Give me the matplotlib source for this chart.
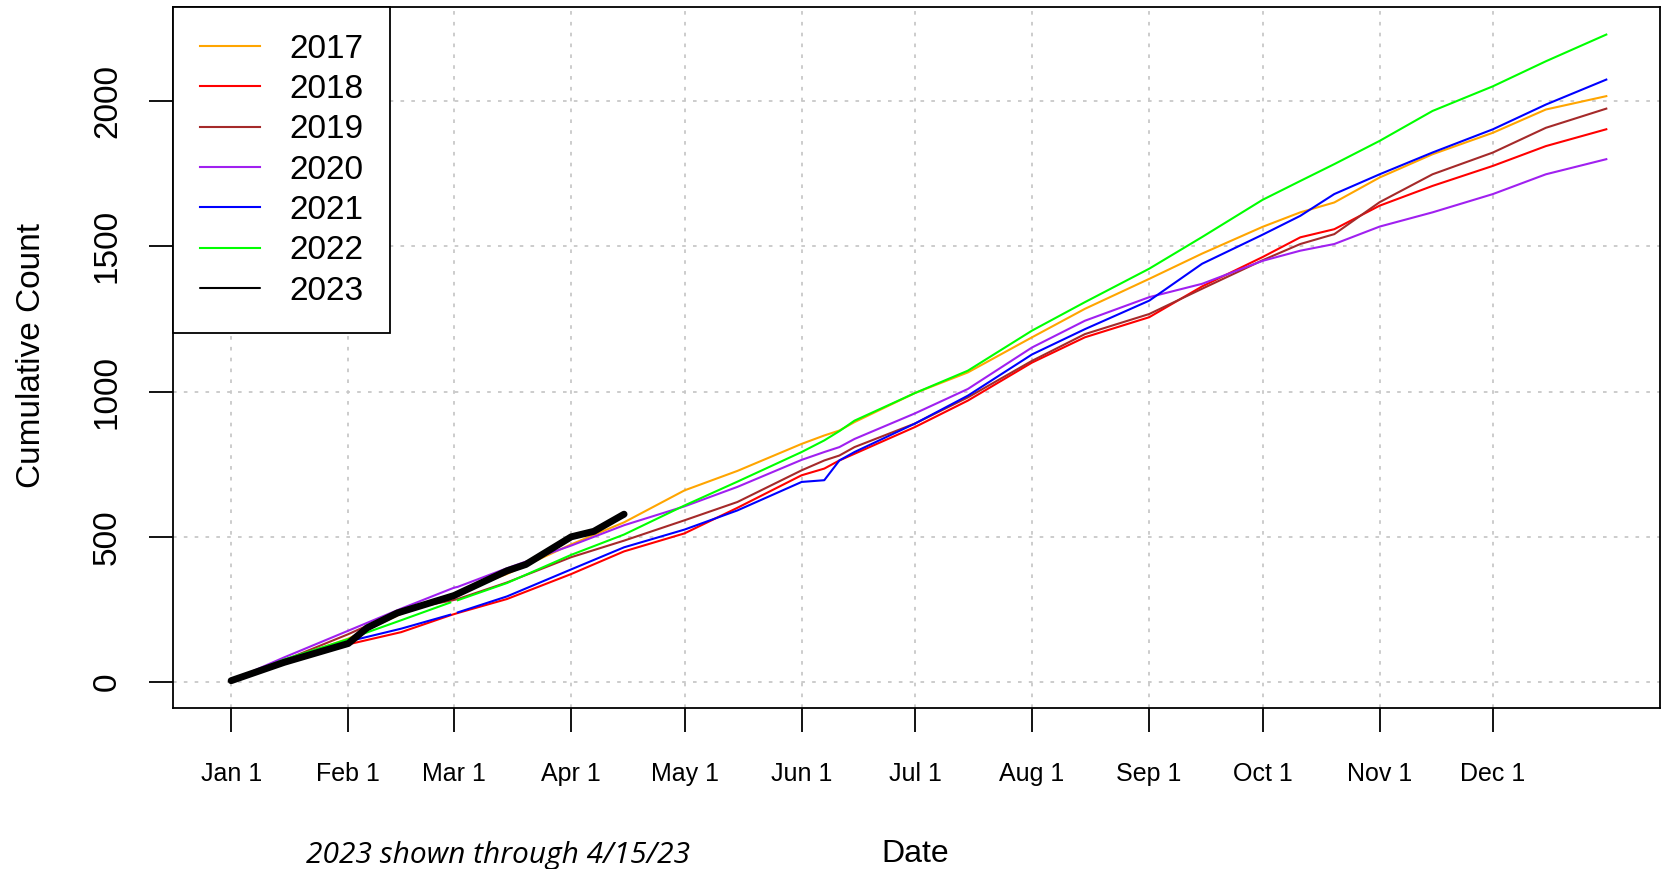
import numpy as np
import matplotlib
matplotlib.use("Agg")
import matplotlib.pyplot as plt

days = [1, 15, 32, 46, 59, 60, 61, 74, 91, 105, 121, 135, 152, 158, 162, 166,
        182, 196, 213, 227, 244, 258, 274, 284, 293, 305, 319, 335, 349, 365]

y2017 = [5, 72, 150, 235, 300, 305, 310, 372, 474, 550, 660, 727, 820, 849, 866, 895,
         995, 1066, 1187, 1285, 1388, 1475, 1567, 1617, 1651, 1737, 1817, 1891, 1971, 2017]
y2018 = [5, 65, 130, 172, 230, 234, 238, 286, 372, 450, 512, 600, 712, 735, 763, 786,
         878, 969, 1100, 1187, 1256, 1362, 1463, 1531, 1559, 1640, 1708, 1777, 1845, 1903]
y2019 = [5, 75, 165, 247, 280, 283, 286, 343, 430, 487, 557, 620, 729, 763, 780, 809,
         890, 980, 1106, 1198, 1267, 1354, 1452, 1508, 1542, 1652, 1748, 1823, 1908, 1974]
y2020 = [5, 85, 177, 253, 320, 325, 328, 392, 470, 540, 605, 672, 765, 792, 809, 837,
         925, 1009, 1152, 1244, 1325, 1371, 1450, 1485, 1508, 1568, 1617, 1680, 1748, 1800]
y2021 = [5, 72, 140, 184, 232, np.nan, 240, 295, 388, 464, 525, 591, 689, 695, 763, 792,
         890, 986, 1128, 1215, 1313, 1440, 1540, 1605, 1680, 1748, 1823, 1903, 1988, 2074]
y2022 = [5, 78, 148, 213, 274, np.nan, 282, 341, 438, 508, 608, 690, 792, 832, 864, 900,
         995, 1072, 1210, 1308, 1423, 1532, 1660, 1725, 1783, 1863, 1966, 2051, 2137, 2229]

# 2023 only through 4/15
days2023 = [1, 15, 32, 37, 45, 60, 74, 79, 91, 97, 105]
y2023 = [5, 68, 133, 187, 238, 298, 383, 405, 500, 519, 578]

years = ["2017", "2018", "2019", "2020", "2021", "2022", "2023"]
colors = ["#FFA500", "#FF0000", "#A52A2A", "#A020F0", "#0000FF", "#00FF00", "black"]

month_days = [1, 32, 60, 91, 121, 152, 182, 213, 244, 274, 305, 335]
month_labels = ["Jan 1", "Feb 1", "Mar 1", "Apr 1", "May 1", "Jun 1",
                "Jul 1", "Aug 1", "Sep 1", "Oct 1", "Nov 1", "Dec 1"]

plt.rcParams["font.family"] = ["Liberation Sans", "DejaVu Sans"]

fig = plt.figure(figsize=(16.73, 8.69), dpi=100)
ax = fig.add_axes([0.1034, 0.1853, 0.9922 - 0.1034, 0.992 - 0.1853])

# grid first so lines sit on top
for d in month_days:
    ax.axvline(d, color="#c8c8c8", lw=1.3, ls=(0, (2, 4)), zorder=0)
for v in range(0, 2001, 500):
    ax.axhline(v, color="#c8c8c8", lw=1.3, ls=(0, (2, 4)), zorder=0)

series = [y2017, y2018, y2019, y2020, y2021, y2022]
for vals, yr, c in zip(series, years[:6], colors[:6]):
    ax.plot(days, vals, color=c, lw=1.5, label=yr)
ax.plot(days2023, y2023, color="black", lw=5, solid_capstyle="round", label="2023")

ax.set_xlim(-14.4, 379.2)
ax.set_ylim(-89, 2324)

ax.set_xticks(month_days)
ax.set_xticklabels(month_labels, fontsize=18)
ax.set_yticks(range(0, 2001, 500))
ax.set_yticklabels([str(v) for v in range(0, 2001, 500)], fontsize=24,
                   rotation=90, va="center")
ax.tick_params(axis="x", length=17, width=1.3, pad=22)
ax.tick_params(axis="y", length=17, width=1.3, pad=19)
for s in ax.spines.values():
    s.set_linewidth(1.3)

fig.text(32 / 1673, 1 - 355 / 869, "Cumulative Count", fontsize=24,
         rotation=90, ha="center", va="center")
fig.text(0.547, 1 - 854 / 869, "Date", fontsize=23, ha="center", va="center")
fig.text(498 / 1673, 1 - 856 / 869, "2023 shown through 4/15/23", fontsize=21.5,
         family=["Open Sans", "DejaVu Sans"], style="italic", ha="center", va="center")

handles, labels = ax.get_legend_handles_labels()
leg = ax.legend(handles, labels, loc="upper left", borderaxespad=0, fontsize=24,
                fancybox=False, edgecolor="black", framealpha=1,
                handlelength=1.8, handletextpad=0.9, labelspacing=0.28,
                borderpad=0.8)
leg.get_frame().set_linewidth(1.3)
for h in leg.get_lines():
    h.set_linewidth(1.5)

fig.savefig("out.png", dpi=100)
